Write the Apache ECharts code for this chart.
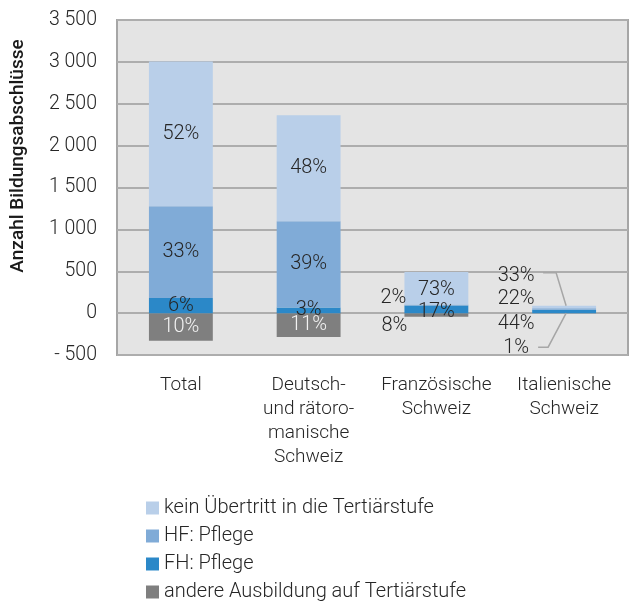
<!DOCTYPE html>
<html>
<head>
<meta charset="utf-8">
<script src="https://cdn.jsdelivr.net/npm/echarts@6.0.0/dist/echarts.min.js"></script>
<style>
  html, body { margin: 0; padding: 0; background: #fff; }
  #chart { width: 630px; height: 606px; }
</style>
</head>
<body>
<div id="chart"></div>
<script>
// Kategorien (x-Achse)
const categories = ['Total', 'Deutsch-\nund rätoro-\nmanische\nSchweiz', 'Französische\nSchweiz', 'Italienische\nSchweiz']

// Serien (Legendenreihenfolge)
const nameKein = 'kein Übertritt in die Tertiärstufe'
const nameHF = 'HF: Pflege'
const nameFH = 'FH: Pflege'
const nameAndere = 'andere Ausbildung auf Tertiärstufe'

// Anzahl Bildungsabschlüsse (aus dem Bild geschätzt)
const keinUebertritt = [1730, 1265, 390, 29]
const hfPflege = [1095, 1030, 11, 19]
const fhPflege = [180, 67, 91, 39]
const andereTertiaer = [-330, -285, -43, -1]

// Prozent-Beschriftungen
const pctKein = [52, 48, 73, 33]
const pctHF = [33, 39, 2, 22]
const pctFH = [6, 3, 17, 44]
const pctAndere = [10, 11, 8, 1]

// y-Achse
const yMin = -500
const yMax = 3500
const yStep = 500

const FONT = 'Roboto, "Noto Sans", sans-serif'
const dark = '#262626'

// Label-Verschiebungen für die kleinen Balken (Französische / Italienische Schweiz)
const labelShift = {
  kein: { 2: [0, 2], 3: [-48, -31] },
  hf: { 2: [-43, -7], 3: [-48, -10] },
  fh: { 2: [0, 3], 3: [-48, 13] },
  andere: { 2: [-42, 11], 3: [-48, 35] }
}

function fmtNum (v) {
  const s = String(Math.abs(v)).replace(/\B(?=(\d{3})+(?!\d))/g, ' ')
  return v < 0 ? '- ' + s : s
}

function buildData (values, pcts, shifts, baseColor, outsideColor) {
  return values.map((v, i) => {
    const item = { value: v, pct: pcts[i] }
    if (shifts[i]) {
      item.label = { offset: shifts[i], color: outsideColor || baseColor }
    }
    return item
  })
}

function makeSeries (name, color, data, labelColor) {
  return {
    name,
    type: 'bar',
    stack: 'total',
    barWidth: '50%',
    data,
    itemStyle: { color },
    label: {
      show: true,
      position: 'inside',
      fontFamily: FONT,
      fontWeight: 300,
      fontSize: 20,
      color: labelColor,
      formatter: p => p.data.pct + '%'
    },
    emphasis: { disabled: true }
  }
}

const chart = echarts.init(document.getElementById('chart'))

const option = {
  animation: false,
  backgroundColor: '#ffffff',
  grid: {
    left: 117, right: 2, top: 20, bottom: 251,
    show: true,
    backgroundColor: '#e4e4e4',
    borderColor: '#a6a6a6',
    borderWidth: 2
  },
  legend: {
    orient: 'vertical',
    left: 146,
    top: 498,
    height: 108,
    padding: 0,
    icon: 'rect',
    itemWidth: 13,
    itemHeight: 13,
    itemGap: 8,
    textStyle: { fontFamily: FONT, fontWeight: 300, fontSize: 20, lineHeight: 20, color: dark },
    data: [nameKein, nameHF, nameFH, nameAndere]
  },
  xAxis: {
    type: 'category',
    data: categories,
    axisLine: { show: false },
    axisTick: { show: false },
    axisLabel: {
      interval: 0,
      margin: 18,
      fontFamily: FONT,
      fontWeight: 300,
      fontSize: 19,
      lineHeight: 24,
      color: dark,
      align: 'center'
    }
  },
  yAxis: {
    type: 'value',
    min: yMin,
    max: yMax,
    interval: yStep,
    axisLine: { show: false },
    axisTick: { show: false },
    splitLine: { lineStyle: { color: '#adadad', width: 2 } },
    axisLabel: {
      margin: 20,
      fontFamily: FONT,
      fontWeight: 300,
      fontSize: 19.5,
      color: dark,
      formatter: fmtNum
    }
  },
  series: [
    makeSeries(nameAndere, '#7f7f7f', buildData(andereTertiaer, pctAndere, labelShift.andere, '#f2f2f2', dark), '#f2f2f2'),
    makeSeries(nameFH, '#2b88c8', buildData(fhPflege, pctFH, labelShift.fh, dark), dark),
    makeSeries(nameHF, '#80abd7', buildData(hfPflege, pctHF, labelShift.hf, dark), dark),
    makeSeries(nameKein, '#b9cfe9', buildData(keinUebertritt, pctKein, labelShift.kein, dark), dark)
  ]
}

chart.setOption(option)

// y-Achsentitel und Hinweislinien für Italienische Schweiz
function addGraphics () {
  const i = 3
  const topVal = keinUebertritt[i] + hfPflege[i] + fhPflege[i]
  const top = chart.convertToPixel({ gridIndex: 0 }, [i, topVal])
  const zero = chart.convertToPixel({ gridIndex: 0 }, [i, 0])
  const lineStyle = { stroke: '#a6a6a6', lineWidth: 1.5, fill: null }
  chart.setOption({
    graphic: [
      {
        type: 'text',
        x: 18,
        y: 156,
        rotation: Math.PI / 2,
        style: {
          text: 'Anzahl Bildungsabschlüsse',
          font: '500 19px ' + FONT,
          fill: '#1a1a1a',
          align: 'center',
          verticalAlign: 'middle'
        }
      },
      {
        type: 'polyline',
        shape: { points: [[top[0] - 21, top[1] - 33], [top[0] - 8, top[1] - 33], [top[0] + 2, top[1]]] },
        style: lineStyle,
        z: 10
      },
      {
        type: 'polyline',
        shape: { points: [[zero[0] - 26, zero[1] + 34], [zero[0] - 16, zero[1] + 34], [zero[0] + 2, zero[1]]] },
        style: lineStyle,
        z: 10
      }
    ]
  })
}
addGraphics()
</script>
</body>
</html>
